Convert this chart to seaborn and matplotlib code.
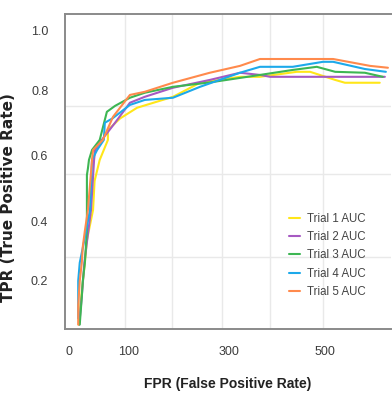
import matplotlib
matplotlib.use("Agg")
import matplotlib.pyplot as plt
import seaborn as sns
import pandas as pd
from matplotlib import font_manager

sns.set_theme(style="white")

names = {f.name for f in font_manager.fontManager.ttflist}
narrow = "Liberation Sans Narrow" if "Liberation Sans Narrow" in names else "Liberation Sans"
plt.rcParams['font.family'] = [narrow, 'DejaVu Sans']

# ---- data ----
trials = ["Trial 1 AUC", "Trial 2 AUC", "Trial 3 AUC", "Trial 4 AUC", "Trial 5 AUC"]
colors = ["#FFE619", "#A659C2", "#3DB653", "#1DA9EA", "#FF8A4C"]

t1_x = [19, 22, 31, 35, 47, 50, 60, 76, 76, 100, 133, 203, 256, 334, 373, 445, 471, 520, 539, 607]
t1_y = [0.06, 0.12, 0.258, 0.33, 0.427, 0.52, 0.587, 0.651, 0.683, 0.72, 0.754, 0.789, 0.834, 0.853, 0.853, 0.869, 0.869, 0.843, 0.834, 0.834]

t2_x = [20, 25, 30, 37, 43, 49, 51, 64, 90, 119, 148, 203, 275, 334, 373, 393, 617]
t2_y = [0.06, 0.15, 0.258, 0.35, 0.427, 0.587, 0.619, 0.651, 0.706, 0.770, 0.789, 0.818, 0.843, 0.866, 0.859, 0.853, 0.853]

t3_x = [21, 25, 27, 31, 35, 35, 35, 37, 39, 45, 60, 74, 90, 119, 148, 203, 275, 373, 437, 484, 520, 578, 613]
t3_y = [0.06, 0.149, 0.2, 0.258, 0.363, 0.427, 0.539, 0.56, 0.587, 0.619, 0.651, 0.741, 0.76, 0.786, 0.802, 0.821, 0.835, 0.859, 0.875, 0.885, 0.869, 0.866, 0.853]

t4_x = [18, 18, 21, 30, 41, 45, 55, 68, 70, 85, 119, 148, 203, 256, 334, 373, 437, 496, 516, 578, 619]
t4_y = [0.08, 0.2, 0.258, 0.33, 0.427, 0.587, 0.619, 0.651, 0.706, 0.72, 0.763, 0.779, 0.786, 0.821, 0.866, 0.885, 0.885, 0.901, 0.901, 0.878, 0.869]

t5_x = [18, 18, 21, 25, 27, 31, 37, 45, 47, 66, 86, 119, 148, 203, 275, 334, 373, 516, 588, 623]
t5_y = [0.06, 0.12, 0.2, 0.258, 0.31, 0.36, 0.427, 0.587, 0.619, 0.651, 0.725, 0.795, 0.805, 0.834, 0.866, 0.888, 0.910, 0.910, 0.888, 0.882]

x_tick_pos = [0, 117, 312, 500]
x_tick_labels = ["0", "100", "300", "500"]
y_tick_pos = [1.0, 0.808, 0.6, 0.389, 0.2]
y_tick_labels = ["1.0", "0.8", "0.6", "0.4", "0.2"]
x_grid = [109, 201, 299, 393, 496]
y_grid = [0.76, 0.542, 0.277]

frames = []
for name, xs, ys in zip(trials, [t1_x, t2_x, t3_x, t4_x, t5_x], [t1_y, t2_y, t3_y, t4_y, t5_y]):
    frames.append(pd.DataFrame({"FPR": xs, "TPR": ys, "Trial": name, "order": range(len(xs))}))
df = pd.concat(frames, ignore_index=True)

fig = plt.figure(figsize=(3.92, 3.93), dpi=100)
ax = fig.add_axes([65 / 392, 1 - 329 / 393, (391 - 65) / 392, (329 - 14) / 393])

sns.lineplot(data=df, x="FPR", y="TPR", hue="Trial", palette=colors, sort=False,
             estimator=None, linewidth=1.5, ax=ax, legend=True)

ax.set_xlim(-7.8, 629)
ax.set_ylim(0.046, 1.054)

ax.set_xticks(x_tick_pos)
ax.set_xticklabels(x_tick_labels)
ax.set_yticks(y_tick_pos)
ax.set_yticklabels(y_tick_labels)
ax.set_xticks(x_grid, minor=True)
ax.set_yticks(y_grid, minor=True)
ax.grid(False)
ax.grid(which="minor", color="#e9e9e9", linewidth=1.0)
ax.tick_params(which="both", length=0)
ax.tick_params(axis="x", labelsize=9, colors="#3c3c3c", pad=12)
ax.tick_params(axis="y", labelsize=9, colors="#3c3c3c", pad=12)

for s in ["left", "top", "bottom"]:
    ax.spines[s].set_visible(True)
    ax.spines[s].set_color("#8a8a8a")
    ax.spines[s].set_linewidth(1.4)
ax.spines["right"].set_visible(False)

ax.set_xlabel("FPR (False Positive Rate)", fontsize=10, fontweight="bold", color="#222222", labelpad=14)
ax.set_ylabel("TPR (True Positive Rate)", fontsize=11, fontweight="bold", color="#222222",
              family=["DejaVu Sans"])
ax.yaxis.set_label_coords((16 - 65) / 326, (329 - 198) / 315)

leg = ax.legend(loc="upper left", bbox_to_anchor=((284 - 65) / 326, 1 - (208 - 14) / 315),
                frameon=False, fontsize=8.3, handlelength=1.0, handletextpad=0.6,
                labelspacing=0.55, borderaxespad=0)
for t in leg.get_texts():
    t.set_color("#444444")

fig.savefig("out.png", dpi=100)
